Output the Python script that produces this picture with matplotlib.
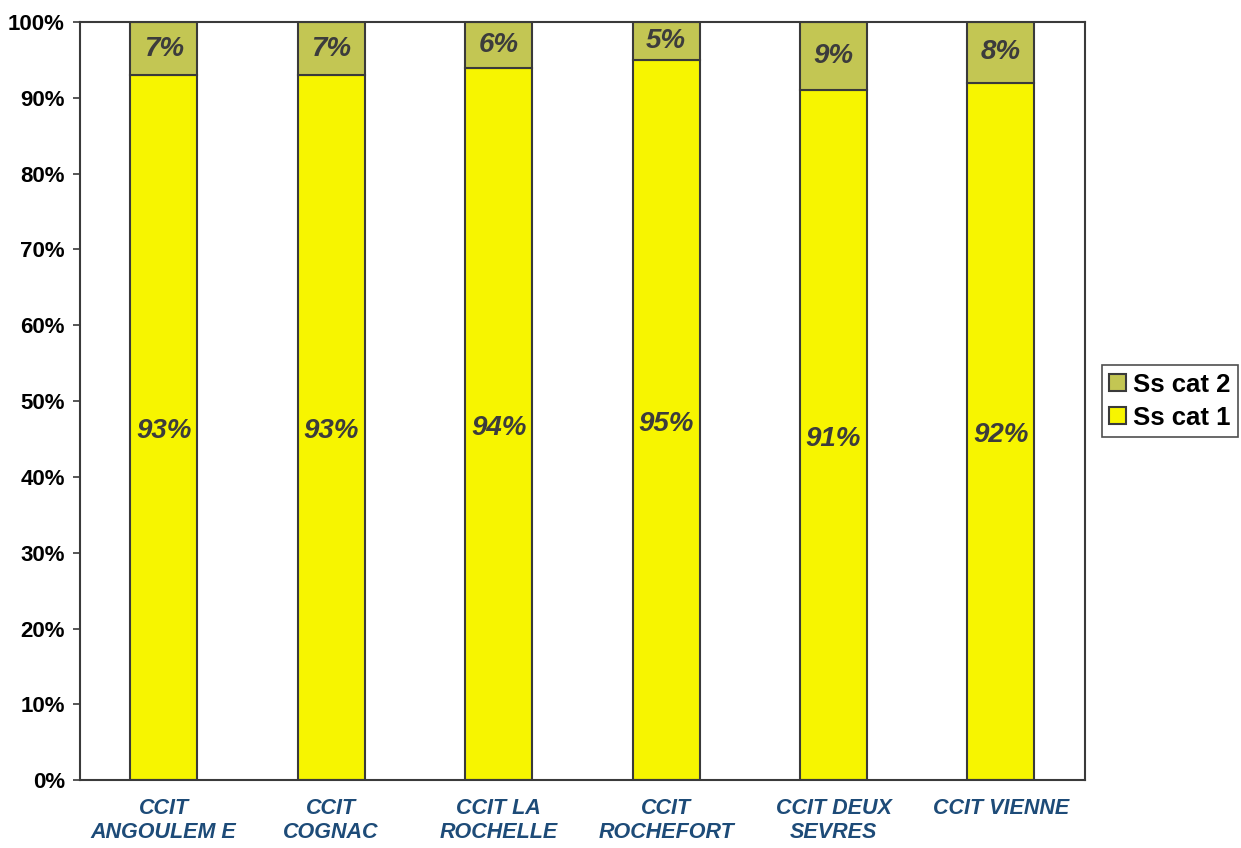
import matplotlib.pyplot as plt
from matplotlib.ticker import PercentFormatter

plt.rcParams['font.family'] = ['Liberation Sans', 'DejaVu Sans']

categories = ["CCIT\nANGOULEM E", "CCIT\nCOGNAC", "CCIT LA\nROCHELLE",
              "CCIT\nROCHEFORT", "CCIT DEUX\nSEVRES", "CCIT VIENNE"]
cat1 = [93, 93, 94, 95, 91, 92]
cat2 = [7, 7, 6, 5, 9, 8]

fig = plt.figure(figsize=(12.41, 8.48), dpi=100)
ax = fig.add_axes([0.0645, 0.080, 0.8095, 0.894])

x = range(len(categories))
edge = "#3a3a3a"
b1 = ax.bar(x, cat1, width=0.4, color="#f7f500", edgecolor=edge, linewidth=1.5, label="Ss cat 1")
b2 = ax.bar(x, cat2, width=0.4, bottom=cat1, color="#c3c653", edgecolor=edge, linewidth=1.5, label="Ss cat 2")

for i, (v1, v2) in enumerate(zip(cat1, cat2)):
    ax.text(i, v1 / 2 - 0.5, f"{v1}%", ha="center", va="center",
            fontsize=20, fontweight="bold", style="italic", color="#3c3c3c")
    ax.text(i, v1 + v2 / 2, f"{v2}%", ha="center", va="center",
            fontsize=20, fontweight="bold", style="italic", color="#3c3c3c")

ax.set_xlim(-0.5, 5.5)
ax.set_ylim(0, 100)
ax.set_yticks(range(0, 101, 10))
ax.yaxis.set_major_formatter(PercentFormatter(decimals=0))
ax.set_xticks(list(x))
ax.set_xticklabels(categories, fontsize=15.5, fontweight="bold", style="italic",
                   color="#1d4b78", linespacing=1.2)
for lbl in ax.get_yticklabels():
    lbl.set_fontsize(16)
    lbl.set_fontweight("bold")
ax.tick_params(axis="x", length=0, pad=13)
ax.tick_params(axis="y", length=5, width=1.2, color=edge, pad=6)
for sp in ax.spines.values():
    sp.set_color(edge)
    sp.set_linewidth(1.5)

leg = ax.legend(handles=[b2, b1], loc="center left", bbox_to_anchor=(1.017, 0.5),
                fontsize=18.5, frameon=True, fancybox=False, edgecolor="#222222",
                handlelength=0.65, handleheight=0.65, handletextpad=0.25,
                borderpad=0.3, labelspacing=0.35, borderaxespad=0)
leg.get_frame().set_linewidth(1.2)
for t in leg.get_texts():
    t.set_fontweight("bold")

fig.savefig("out.png", dpi=100)
